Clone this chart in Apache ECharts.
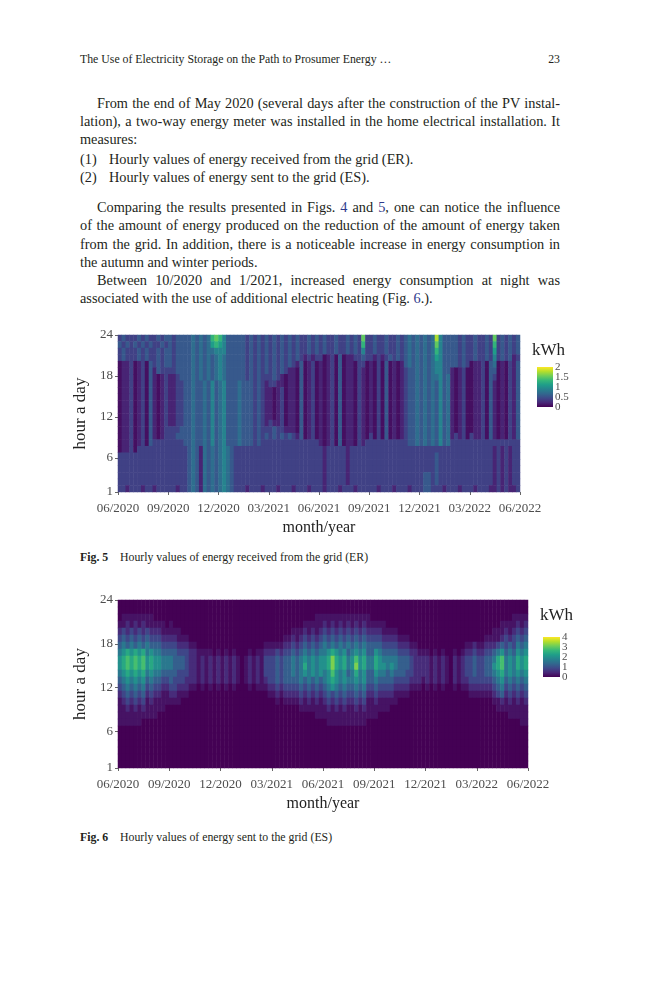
<!DOCTYPE html>
<html>
<head>
<meta charset="utf-8">
<script src="https://cdn.jsdelivr.net/npm/echarts@6/dist/echarts.min.js"></script>
<style>
html, body { margin: 0; padding: 0; background: #fff; }
body { position: relative; width: 659px; height: 1000px; overflow: hidden; font-family: "Liberation Serif", "Times New Roman", serif; color: #231f20; }
.ln { position: absolute; left: 80px; width: 480px; font-size: 14.3px; line-height: 18px; white-space: nowrap; }
.j { text-align: justify; text-align-last: justify; white-space: normal; }
.ind { left: 97px; width: 463px; }
.ref { color: #2e3a8c; }
.small { position: absolute; font-size: 11.8px; line-height: 14px; white-space: nowrap; }
#er, #es { position: absolute; left: 0; width: 659px; }
#er { top: 320px; height: 225px; }
#es { top: 585px; height: 235px; }
</style>
</head>
<body>
<div class="small" style="left:80px; top:52px;">The Use of Electricity Storage on the Path to Prosumer Energy …</div>
<div class="small" style="left:520px; width:40px; text-align:right; top:52px;">23</div>

<div class="ln j ind" style="top:94px;">From the end of May 2020 (several days after the construction of the PV instal-</div>
<div class="ln j" style="top:112px;">lation), a two-way energy meter was installed in the home electrical installation. It</div>
<div class="ln" style="top:130px;">measures:</div>
<div class="ln" style="top:150px;">(1)</div>
<div class="ln" style="top:150px; left:109px;">Hourly values of energy received from the grid (ER).</div>
<div class="ln" style="top:168px;">(2)</div>
<div class="ln" style="top:168px; left:109px;">Hourly values of energy sent to the grid (ES).</div>
<div class="ln j ind" style="top:198px;">Comparing the results presented in Figs. <span class="ref">4</span> and <span class="ref">5</span>, one can notice the influence</div>
<div class="ln j" style="top:216px;">of the amount of energy produced on the reduction of the amount of energy taken</div>
<div class="ln j" style="top:235px;">from the grid. In addition, there is a noticeable increase in energy consumption in</div>
<div class="ln" style="top:253px;">the autumn and winter periods.</div>
<div class="ln j ind" style="top:271px;">Between 10/2020 and 1/2021, increased energy consumption at night was</div>
<div class="ln" style="top:289px;">associated with the use of additional electric heating (Fig. <span class="ref">6</span>.).</div>

<div id="er"></div>
<div class="small" style="left:80px; top:550px;"><b>Fig. 5</b></div>
<div class="small" style="left:120px; top:550px;">Hourly values of energy received from the grid (ER)</div>

<div id="es"></div>
<div class="small" style="left:80px; top:830px;"><b>Fig. 6</b></div>
<div class="small" style="left:120px; top:830px;">Hourly values of energy sent to the grid (ES)</div>

<script>
// axis ticks
var MONTH_TICKS = ['06/2020', '09/2020', '12/2020', '03/2021', '06/2021', '09/2021', '12/2021', '03/2022', '06/2022'];
var HOUR_TICKS = [1, 6, 12, 18, 24];
var WEEKS = 104;   // one column per week, 06/2020 - 06/2022

// level code -> kWh
var ER_LEVELS = [0.08, 0.2, 0.39, 0.56, 0.72, 0.9, 1.1, 1.3, 1.5, 1.75, 2.0];
var ES_LEVELS = [0, 0.2, 0.5, 0.85, 1.2, 1.6, 2.0, 2.4, 2.8, 3.2, 3.7];

// colourbar labels
var ER_LEGEND = [0, 0.5, 1, 1.5, 2];
var ES_LEGEND = [0, 1, 2, 3, 4];

// energy received (ER), row 0 = hour 24, one group = 3 months (13 weeks)
var ER_ROWS = [
    "2322232322323 3233334343478 7533333232323 2323232322323 2322322323282 2322322323434 3434953333232 2322328232323",
    "3232323232232 3233334343467 6533333232323 2323232322323 2322322323272 2322322323434 3434853333232 2322327232323",
    "2322232322323 3233334343445 5533333232323 2323232322323 2322322323252 2322322323434 3434753333232 2322326232323",
    "2322232322323 3233334343434 5433333232323 2323232321212 2012030112232 2121232323434 3434653333232 2322325232312",
    "0112012032323 3233334343434 5433333232323 2323232130120 1012030110220 1020301013434 3434553333232 0112034010213",
    "0112012031322 2233334343434 5433333232323 2323211030120 1012030110210 1020301012334 3434553310120 0112033010213",
    "0112012031012 1123334343434 5433333232322 2321011030120 1012030110210 1020301012334 3434453410120 0112032010213",
    "0112012031012 1122334334353 4533343332321 2211011030120 1012030110210 1020301012334 3434353410120 0112031010213",
    "0112012031012 1122334334353 4533343332321 1012011030120 1012030110210 1020301012334 3434353410120 0112031010213",
    "0112012031012 1122334334353 4533343332321 1012011030120 1012030110210 1020301012334 3434353410120 0112031010213",
    "0112012031012 1122334334353 4533343332321 1012011030120 1012030110210 1020301012334 3434353410120 0112031010213",
    "0112012031012 1122334334353 4533343332321 1012011030120 1012030110210 1020301012334 3434353410120 0112031010213",
    "0112012031012 1122334334353 4533343332321 1012011030120 1012030110210 1020301012334 3434353410120 0112031010213",
    "0112012031012 1122334334353 4533343332321 2112011030120 1012030110210 1020301012334 3434353410120 0112031010213",
    "0112012031012 2223334334353 4533343332322 2322111030120 1012030110210 1020301012334 3434353410120 0112031010213",
    "0112012031012 2233334334353 4533343332323 2323232130120 1012030110210 2020301012334 3434353412120 2112031010213",
    "0112012032222 2222334334353 4533343332322 2222222222222 1012030110212 2222222222334 3434353422222 2222222222222",
    "0112022222222 2222234314343 4543222222222 2222222222222 2122222122222 2222222222222 2222222222222 2222221212122",
    "2222222222222 2222234314343 4543222222222 2222222222222 2122222122222 2222222222222 2222322222222 2222221212122",
    "2222222222222 2222234314343 4543222222222 2222222222222 2122222122222 2222222222222 2222322222222 2222221212122",
    "2222222222222 2222234314343 4543222222222 2222222222222 2122222122222 2222222222222 2222322222222 2222221212122",
    "2222222222222 2222234314343 4543222222222 2222222222222 2122222122222 2222222222222 2332322222222 2222221212122",
    "2222222222222 2222234314343 4543222222222 2222222222222 2122222122222 2222222222222 2332322222222 2222221212122",
    "2212221221222 2212234314343 4543222122212 2212221222122 2122212221222 2212221222122 2332221222122 2122211212112"
];

// energy sent (ES), row 0 = hour 24
var ES_ROWS = [
    "0000000000000 0000000000000 0000000000000 0000000000000 0000000000000 0000000000000 0000000000000 0000000000000",
    "0000000000000 0000000000000 0000000000000 0000000000000 0000000000000 0000000000000 0000000000000 0000000000000",
    "0111111110000 0000000000000 0000000000000 0000000000011 1111111111110 0000000000000 0000000000000 0000000001111",
    "1121212111110 1000000000000 0000000000000 0000000011111 2121212121211 1110000000000 0000000000000 0000001111212",
    "2323232322211 1110000000000 0000000000000 0000011121212 3232323232322 2211110000000 0000000000000 0000111212323",
    "3434343433322 2211100000000 0000000000000 0001121232323 4343434343433 3322221110000 0000000000000 0011112323434",
    "4545454544433 3322211000000 0000000000011 1112232343434 5454545454544 4433332221100 0000000000112 1122234343545",
    "5676767565544 4433322111101 0101000101122 2323343454545 5676564565644 6544443332211 1010100101223 2233456454656",
    "6787878676655 5444322121212 1212101212133 3434454565656 6797675686755 7655554443222 2121210212334 3344578565767",
    "6787878676655 5444322121212 1212101212133 3434454575656 6797675696755 7665654443222 2121210212334 3344678565767",
    "5676767565544 4433322121212 1212101212133 3434454565656 5686564575644 6554544433222 2121210212334 3344567565656",
    "4565656454433 4333222121212 1212101212123 3434444545454 5676565565644 5444433332221 2121210212233 3333456454545",
    "3454545343322 3322211010101 0101000101112 2323333434343 4565454454533 4333322221110 1010100101122 2222345343434",
    "2343434232211 2211100000000 0000000000001 1212222323232 3434343343422 3222211110000 0000000000011 1111234232323",
    "1232323121111 1110000000000 0000000000000 0101111212121 2323232232311 2111110000000 0000000000000 0000112121212",
    "1121212111110 0000000000000 0000000000000 0000000111111 1212121121211 1111000000000 0000000000000 0000011111111",
    "1111111111000 0000000000000 0000000000000 0000000000011 1111111111111 1000000000000 0000000000000 0000000011111",
    "1111110000000 0000000000000 0000000000000 0000000000000 0111111111100 0000000000000 0000000000000 0000000000011",
    "0000000000000 0000000000000 0000000000000 0000000000000 0000000000000 0000000000000 0000000000000 0000000000000",
    "0000000000000 0000000000000 0000000000000 0000000000000 0000000000000 0000000000000 0000000000000 0000000000000",
    "0000000000000 0000000000000 0000000000000 0000000000000 0000000000000 0000000000000 0000000000000 0000000000000",
    "0000000000000 0000000000000 0000000000000 0000000000000 0000000000000 0000000000000 0000000000000 0000000000000",
    "0000000000000 0000000000000 0000000000000 0000000000000 0000000000000 0000000000000 0000000000000 0000000000000",
    "0000000000000 0000000000000 0000000000000 0000000000000 0000000000000 0000000000000 0000000000000 0000000000000"
];

var VIRIDIS = ['#440154', '#482878', '#3e4989', '#31688e', '#26828e', '#1f9e89', '#35b779', '#6ece58', '#b5de2b', '#fde725'];
var FONT = 'Liberation Serif';

function toCells(rows, levels) {
    var cells = [];
    for (var r = 0; r < rows.length; r++) {
        var s = rows[r].replace(/ /g, '');
        for (var c = 0; c < WEEKS; c++) {
            var ch = s.charAt(Math.min(c, s.length - 1));
            cells.push([c, rows.length - 1 - r, levels[parseInt(ch, 16)]]);
        }
    }
    return cells;
}

function legend(vals, vmax, lg) {
    var stops = [];
    for (var i = 0; i < VIRIDIS.length; i++) {
        stops.push({offset: i / (VIRIDIS.length - 1), color: VIRIDIS[i]});
    }
    var els = [
        {type: 'text', left: lg.kx, top: lg.ky, style: {text: 'kWh', font: '17px ' + FONT, fill: '#222'}},
        {type: 'rect', shape: {x: lg.x, y: lg.y, width: lg.w, height: lg.h},
            style: {fill: new echarts.graphic.LinearGradient(0, 1, 0, 0, stops)}}
    ];
    for (var k = 0; k < vals.length; k++) {
        els.push({type: 'text', x: lg.x + lg.w + 2, y: lg.y + lg.h - vals[k] / vmax * lg.h,
            style: {text: String(vals[k]), font: '11px ' + FONT, fill: '#4d4d4d', verticalAlign: 'middle'}});
    }
    return els;
}

function drawChart(id, rows, levels, vmax, vals, g, lg) {
    var myChart = echarts.init(document.getElementById(id));
    var weeks = [], hours = [];
    for (var i = 0; i < WEEKS; i++) weeks.push(i);
    for (var h = 1; h <= 24; h++) hours.push(String(h));

    var option = {
        animation: false,
        textStyle: {fontFamily: FONT},
        grid: {left: g.left, top: g.top, width: g.width, height: g.height},
        xAxis: [
            {type: 'category', data: weeks, show: false, position: 'top'},
            {
                type: 'value', min: 0, max: 24, interval: 3, position: 'bottom',
                axisLine: {show: false},
                axisTick: {show: true, length: 3, lineStyle: {color: '#666'}},
                splitLine: {show: false},
                axisLabel: {
                    margin: 10, fontSize: 13, color: '#4d4d4d', hideOverlap: false,
                    showMinLabel: true, showMaxLabel: true,
                    formatter: function (v) { return MONTH_TICKS[Math.round(v / 3)]; }
                },
                name: 'month/year', nameLocation: 'middle', nameGap: g.xGap,
                nameTextStyle: {fontSize: 16, color: '#222'}
            }
        ],
        yAxis: [
            {type: 'category', data: hours, show: false, position: 'right'},
            {
                type: 'value', min: 1, max: 24, position: 'left',
                axisLine: {show: false},
                axisTick: {show: true, length: 3, customValues: HOUR_TICKS, lineStyle: {color: '#666'}},
                splitLine: {show: false},
                axisLabel: {margin: 5, fontSize: 13, color: '#4d4d4d', customValues: HOUR_TICKS,
                    showMinLabel: true, showMaxLabel: true},
                name: 'hour a day', nameLocation: 'middle', nameGap: 21,
                nameTextStyle: {fontSize: 17, color: '#222'}
            }
        ],
        visualMap: {
            type: 'continuous', show: false, min: 0, max: vmax, dimension: 2, seriesIndex: 0,
            inRange: {color: VIRIDIS}
        },
        series: [{
            type: 'heatmap', xAxisIndex: 0, yAxisIndex: 0,
            data: toCells(rows, levels),
            progressive: 0,
            emphasis: {disabled: true}
        }],
        graphic: legend(vals, vmax, lg)
    };
    myChart.setOption(option, true);
}

drawChart('er', ER_ROWS, ER_LEVELS, 2, ER_LEGEND,
    {left: 118, top: 15, width: 402, height: 157, xGap: 26},
    {kx: 532, ky: 22, x: 537, y: 47, w: 16, h: 40});

drawChart('es', ES_ROWS, ES_LEVELS, 4, ES_LEGEND,
    {left: 118, top: 15, width: 410, height: 168, xGap: 27},
    {kx: 540, ky: 22, x: 543, y: 52, w: 17, h: 40});
</script>
</body>
</html>
